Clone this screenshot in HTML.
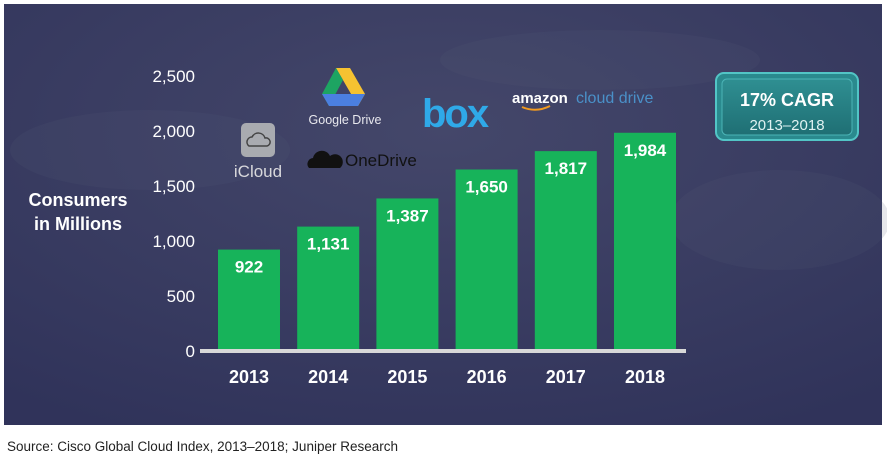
<!DOCTYPE html>
<html><head><meta charset="utf-8"><style>
body{margin:0;width:887px;height:456px;background:#fff;font-family:"Liberation Sans",sans-serif;overflow:hidden}
</style></head><body>
<svg width="887" height="456">
<defs>
<radialGradient id="bg" cx="0.5" cy="0.3" r="0.8">
<stop offset="0" stop-color="#44476a"/><stop offset="1" stop-color="#30335a"/>
</radialGradient>
<linearGradient id="box" x1="0" y1="0" x2="0" y2="1"><stop offset="0" stop-color="#2f8f92"/><stop offset="1" stop-color="#1f6f74"/></linearGradient>
</defs>
<rect x="4" y="4" width="878" height="421" fill="url(#bg)"/>
<ellipse cx="150" cy="150" rx="140" ry="40" fill="#5a5d78" opacity="0.15"/>
<ellipse cx="780" cy="220" rx="110" ry="50" fill="#5a5d78" opacity="0.15"/>
<ellipse cx="600" cy="60" rx="160" ry="30" fill="#5a5d78" opacity="0.15"/>
<g id="axis"></g>
<g id="bars"></g>
<text x="78" y="206" fill="#fff" font-size="18" font-weight="bold" text-anchor="middle"><tspan x="78">Consumers</tspan><tspan x="78" dy="24">in Millions</tspan></text>
<g>
<rect x="241" y="123" width="34" height="34" rx="5" fill="#a9abb0"/>
<path d="M249 146 a5 5 0 0 1 3-9 a7 7 0 0 1 13 1 a4 4 0 0 1 2 8z" fill="none" stroke="#444" stroke-width="1.5"/>
<text x="258" y="177" fill="#d8d8dc" font-size="17" text-anchor="middle">iCloud</text></g>
<g>
<polygon points="336,68 350,68 365,94 358,106" fill="#f6c231"/>
<polygon points="336,68 322,94 329,106 343,80" fill="#1da462"/>
<polygon points="329,106 358,106 365,94 322,94" fill="#4b7fe0"/>
<text x="345" y="124" fill="#e8e8ee" font-size="12.5" text-anchor="middle">Google Drive</text></g>
<g>
<path d="M309 168 a6 6 0 0 1 4-10 a9 9 0 0 1 17-2 a6 6 0 0 1 10 12z" fill="#111"/>
<text x="345" y="166" fill="#111" font-size="17">OneDrive</text></g>
<text x="422" y="127" fill="#2fa9e8" font-size="40" font-weight="bold" letter-spacing="-2">box</text>
<g>
<text x="512" y="103" fill="#fff" font-size="15" font-weight="bold">amazon</text>
<text x="576" y="103" fill="#4a90c8" font-size="16">cloud drive</text>
<path d="M522 107 q14 6 28 -1" stroke="#f29a1f" stroke-width="2" fill="none"/></g>
<g>
<rect x="716" y="73" width="142" height="67" rx="8" fill="#2a8a8e" stroke="#52c5c6" stroke-width="2"/>
<rect x="722" y="79" width="130" height="56" rx="5" fill="url(#box)" stroke="#4bb4b6" stroke-width="1"/>
<text x="787" y="106" fill="#fff" font-size="18" font-weight="bold" text-anchor="middle">17% CAGR</text>
<text x="787" y="130" fill="#e0f2f2" font-size="15" text-anchor="middle">2013–2018</text></g>
<text x="7" y="451" fill="#222" font-size="13.5">Source: Cisco Global Cloud Index, 2013–2018; Juniper Research</text>
</svg>
<script>
const categories=["2013","2014","2015","2016","2017","2018"];
const values=[922,1131,1387,1650,1817,1984];
const valueLabels=["922","1,131","1,387","1,650","1,817","1,984"];
const ticks=[0,500,1000,1500,2000,2500];
const tickLabels=["0","500","1,000","1,500","2,000","2,500"];
const NS="http://www.w3.org/2000/svg";
const y=v=>351-v*0.11;
const x=i=>218+i*79.2;
const bw=62;
const ax=document.getElementById('axis'),bg=document.getElementById('bars');
function mk(tag,attrs,parent,txt){const e=document.createElementNS(NS,tag);for(const k in attrs)e.setAttribute(k,attrs[k]);if(txt!=null)e.textContent=txt;parent.appendChild(e);return e;}
ticks.forEach((t,i)=>{
 const el=mk('text',{x:195,y:y(t)+6,fill:'#fff','font-size':17,'text-anchor':'end'},ax,tickLabels[i]);
 
 
});
values.forEach((v,i)=>{
 const r=mk('rect',{x:x(i),y:y(v),width:bw,height:351-y(v),fill:'#17b35a'},bg);
 
 
 const l=mk('text',{x:x(i)+bw/2,y:y(v)+23,fill:'#fff','font-size':17,'font-weight':'bold','text-anchor':'middle'},bg,valueLabels[i]);
 
 
 const c=mk('text',{x:x(i)+bw/2,y:383,fill:'#fff','font-size':18,'font-weight':'bold','text-anchor':'middle'},bg,categories[i]);
 
 
});
const base=mk('rect',{x:200,y:349,width:486,height:4,fill:'#d8d8d8'},bg);


</script>
</body></html>
